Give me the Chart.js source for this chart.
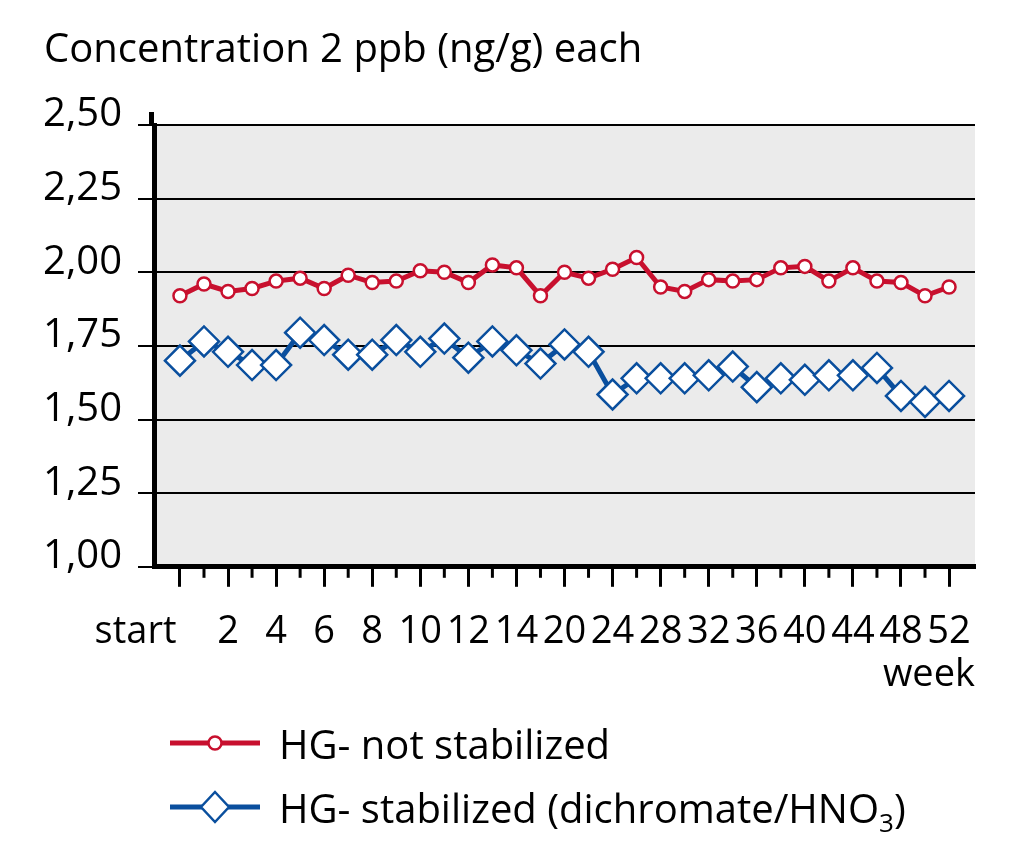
<!DOCTYPE html>
<html>
<head>
<meta charset="utf-8">
<script src="https://cdn.jsdelivr.net/npm/chart.js@4"></script>
<style>
    body { margin: 0; background: #fff; font-family: 'Open Sans', sans-serif; }
    #wrap { position: relative; width: 1024px; height: 851px; }
    #chartBox { position: absolute; left: 0; top: 0; width: 1024px; height: 851px; }
    .legend-row { position: absolute; left: 170px; height: 50px; display: flex; align-items: center; font-size: 40px; color: #000; white-space: nowrap; }
    .legend-row svg { margin-right: 19px; }
    sub { font-size: 26px; vertical-align: -9px; line-height: 0; }
</style>
</head>
<body>
<div id="wrap">
    <div id="chartBox"><canvas id="concChart"></canvas></div>
    <div class="legend-row" style="top:718px">
        <svg width="90" height="30"><line x1="0" y1="15" x2="90" y2="15" stroke="#c8102e" stroke-width="5"/><circle cx="45" cy="15" r="6.5" fill="#fff" stroke="#c8102e" stroke-width="2.5"/></svg>
        <span>HG- not stabilized</span>
    </div>
    <div class="legend-row" style="top:782px">
        <svg width="90" height="36"><line x1="0" y1="18" x2="90" y2="18" stroke="#0a4f9e" stroke-width="5"/><polygon points="45,3 59,18 45,33 31,18" fill="#fff" stroke="#0a4f9e" stroke-width="2.5"/></svg>
        <span>HG- stabilized (dichromate/HNO<sub>3</sub>)</span>
    </div>
</div>
<script>
// Data
const weekLabels = ['start', '', '2', '', '4', '', '6', '', '8', '', '10', '', '12', '', '14', '', '20', '',
    '24', '', '28', '', '32', '', '36', '', '40', '', '44', '', '48', '', '52'];
const notStabilized = [1.92, 1.96, 1.935, 1.945, 1.97, 1.98, 1.945, 1.99, 1.965, 1.97, 2.005, 2.0, 1.965,
    2.025, 2.015, 1.92, 2.0, 1.98, 2.01, 2.05, 1.95, 1.935, 1.975, 1.97, 1.975, 2.015, 2.02, 1.97, 2.015,
    1.97, 1.965, 1.92, 1.95];
const stabilized = [1.70, 1.765, 1.73, 1.685, 1.685, 1.795, 1.77, 1.72, 1.72, 1.77, 1.73, 1.775, 1.71,
    1.765, 1.735, 1.69, 1.755, 1.73, 1.585, 1.64, 1.64, 1.64, 1.65, 1.68, 1.61, 1.64, 1.635, 1.65, 1.65,
    1.675, 1.58, 1.56, 1.58];
const yMin = 1.0;
const yMax = 2.5;
const yStep = 0.25;
// End data

const RED = '#c8102e';
const BLUE = '#0a4f9e';
const FONT = "'Open Sans', sans-serif";

const toPoints = (values) => values.map((v, i) => ({ x: i, y: v }));

const plotBackground = {
    id: 'plotBackground',
    beforeDraw(chart) {
        const { ctx, chartArea: a } = chart;
        ctx.save();
        ctx.fillStyle = '#ebebeb';
        ctx.fillRect(a.left, a.top, a.right - a.left, a.bottom - a.top);
        ctx.restore();
    },
    afterDraw(chart) {
        const { ctx, chartArea: a, scales } = chart;
        ctx.save();
        ctx.strokeStyle = '#000';
        // y axis sticks out above the plot
        ctx.lineWidth = 5;
        ctx.beginPath();
        ctx.moveTo(a.left - 2.5, a.top - 13);
        ctx.lineTo(a.left - 2.5, a.top);
        ctx.stroke();
        // short ticks between labelled weeks
        ctx.lineWidth = 3;
        const x = scales.x;
        weekLabels.forEach((label, i) => {
            if (i % 2 === 0) return;
            const px = x.getPixelForValue(i);
            ctx.beginPath();
            ctx.moveTo(px, x.top);
            ctx.lineTo(px, x.top + 11);
            ctx.stroke();
        });
        ctx.restore();
    }
};

new Chart(document.getElementById('concChart'), {
    type: 'line',
    data: {
        datasets: [{
            label: 'HG- not stabilized',
            data: toPoints(notStabilized),
            borderColor: RED,
            borderWidth: 5,
            pointStyle: 'circle',
            pointRadius: 6.5,
            pointBorderWidth: 2.5,
            pointBackgroundColor: '#fff',
            pointBorderColor: RED,
            tension: 0
        }, {
            label: 'HG- stabilized (dichromate/HNO3)',
            data: toPoints(stabilized),
            borderColor: BLUE,
            borderWidth: 5,
            pointStyle: 'rectRot',
            pointRadius: 15,
            pointBorderWidth: 2.5,
            pointBackgroundColor: '#fff',
            pointBorderColor: BLUE,
            tension: 0
        }]
    },
    options: {
        responsive: true,
        maintainAspectRatio: false,
        animation: false,
        layout: { padding: { left: 44, right: 49, top: 0, bottom: 153 } },
        plugins: {
            legend: { display: false },
            tooltip: { enabled: false },
            title: {
                display: true,
                text: 'Concentration 2 ppb (ng/g) each',
                align: 'start',
                color: '#000',
                font: { family: FONT, size: 40, weight: 'normal' },
                padding: { top: 27, bottom: 50 }
            }
        },
        scales: {
            x: {
                type: 'linear',
                min: -1.08,
                max: weekLabels.length - 1 + 1.08,
                afterBuildTicks: (scale) => {
                    scale.ticks = weekLabels.map((l, i) => ({ value: i }));
                },
                ticks: {
                    autoSkip: false,
                    maxRotation: 0,
                    color: '#000',
                    padding: 23,
                    font: { family: FONT, size: 38 },
                    callback: (value) => {
                        const label = weekLabels[value] || '';
                        return label === 'start' ? label + ' '.repeat(9) : label;
                    }
                },
                grid: {
                    drawOnChartArea: false,
                    drawTicks: true,
                    tickLength: 20,
                    tickWidth: 3,
                    tickColor: (ctx) => (ctx.tick && ctx.tick.value % 2 === 0) ? '#000' : 'rgba(0,0,0,0)'
                },
                border: { display: true, color: '#000', width: 5 },
                title: {
                    display: true,
                    text: 'week',
                    align: 'end',
                    color: '#000',
                    font: { family: FONT, size: 38 },
                    padding: { top: -26, bottom: 0 }
                }
            },
            y: {
                min: yMin,
                max: yMax,
                afterFit: (scale) => {
                    scale.width = 110;
                },
                ticks: {
                    stepSize: yStep,
                    color: '#000',
                    padding: 16,
                    labelOffset: -10,
                    font: { family: FONT, size: 40 },
                    callback: (value) => value.toFixed(2).replace('.', ',')
                },
                grid: {
                    color: '#000',
                    lineWidth: 2,
                    drawTicks: true,
                    tickLength: 16
                },
                border: { display: true, color: '#000', width: 5 }
            }
        }
    },
    plugins: [plotBackground]
});
</script>
</body>
</html>
